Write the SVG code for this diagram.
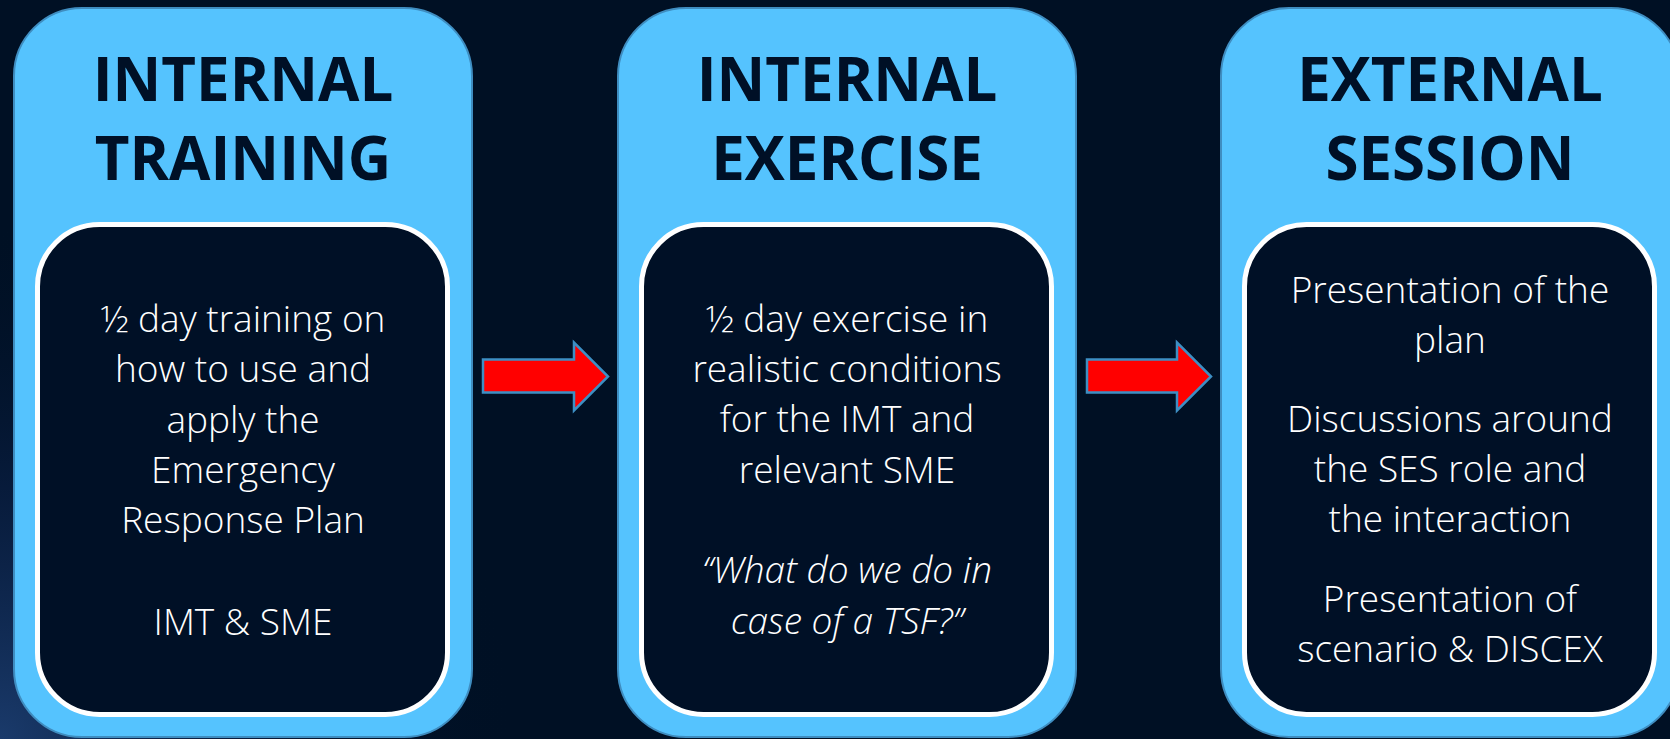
<svg xmlns="http://www.w3.org/2000/svg" width="1670" height="739" viewBox="0 0 1670 739">
  <defs>
    <radialGradient id="bgGlow" cx="0" cy="739" r="520" gradientUnits="userSpaceOnUse">
      <stop offset="0" stop-color="#1d3f73" stop-opacity="0.9"/>
      <stop offset="0.5" stop-color="#0b2148" stop-opacity="0.6"/>
      <stop offset="1" stop-color="#001024" stop-opacity="0"/>
    </radialGradient>
    <style>
      .outer { fill: #55c3fe; stroke: #3f8dc0; stroke-width: 2; }
      .inner { fill: #001026; stroke: #ffffff; stroke-width: 5; }
      .title { font-family: "Open Sans", "Noto Sans", sans-serif; font-weight: 700; font-size: 60px; fill: #001026; text-anchor: middle; }
      .body { font-family: "Open Sans", "Noto Sans", sans-serif; font-weight: 350; font-size: 37px; fill: #ffffff; text-anchor: middle; }
      .ital { font-style: italic; }
      .arrow { fill: #ff0000; stroke: #3d8fc4; stroke-width: 2.5; stroke-linejoin: miter; }
    </style>
  </defs>

  <rect x="0" y="0" width="1670" height="739" fill="#001024"/>
  <rect x="0" y="0" width="1670" height="739" fill="url(#bgGlow)"/>

  <g id="node-internal-training">
    <rect class="outer" x="14" y="8" width="458" height="729" rx="68" ry="68"/>
    <text class="title" x="243" y="101">INTERNAL</text>
    <text class="title" x="243" y="180">TRAINING</text>
    <rect class="inner" x="37.5" y="224.5" width="410" height="490" rx="62" ry="62"/>
    <text class="body" x="243" y="332">½ day training on</text>
    <text class="body" x="243" y="382">how to use and</text>
    <text class="body" x="243" y="433">apply the</text>
    <text class="body" x="243" y="483">Emergency</text>
    <text class="body" x="243" y="533">Response Plan</text>
    <text class="body" x="243" y="635">IMT &amp; SME</text>
  </g>

  <g id="node-internal-exercise">
    <rect class="outer" x="618" y="8" width="458" height="729" rx="68" ry="68"/>
    <text class="title" x="847" y="101">INTERNAL</text>
    <text class="title" x="847" y="180">EXERCISE</text>
    <rect class="inner" x="641.5" y="224.5" width="410" height="490" rx="62" ry="62"/>
    <text class="body" x="847" y="332">½ day exercise in</text>
    <text class="body" x="847" y="382">realistic conditions</text>
    <text class="body" x="847" y="432">for the IMT and</text>
    <text class="body" x="847" y="483">relevant SME</text>
    <text class="body ital" x="847" y="583">“What do we do in</text>
    <text class="body ital" x="847" y="634">case of a TSF?”</text>
  </g>

  <g id="node-external-session">
    <rect class="outer" x="1221" y="8" width="458" height="729" rx="68" ry="68"/>
    <text class="title" x="1450" y="101">EXTERNAL</text>
    <text class="title" x="1450" y="180">SESSION</text>
    <rect class="inner" x="1244.5" y="224.5" width="410" height="490" rx="62" ry="62"/>
    <text class="body" x="1450" y="303">Presentation of the</text>
    <text class="body" x="1450" y="353">plan</text>
    <text class="body" x="1450" y="432">Discussions around</text>
    <text class="body" x="1450" y="482">the SES role and</text>
    <text class="body" x="1450" y="532">the interaction</text>
    <text class="body" x="1450" y="612">Presentation of</text>
    <text class="body" x="1450" y="662">scenario &amp; DISCEX</text>
  </g>

  <g id="connectors">
    <path class="arrow" d="M483,359.5 H574 V342.5 L608,376.5 L574,410.5 V392.5 H483 Z"/>
    <path class="arrow" d="M1087,359.5 H1177 V342.5 L1211,376.5 L1177,410.5 V392.5 H1087 Z"/>
  </g>
</svg>
